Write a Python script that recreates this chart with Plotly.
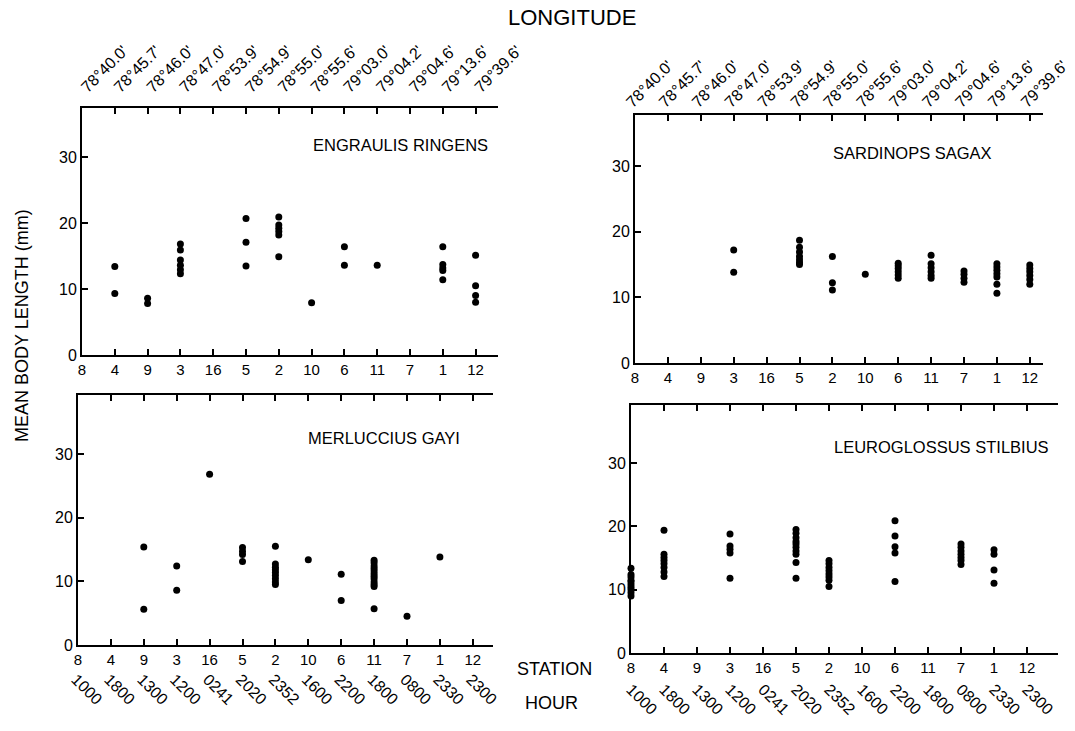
import plotly.graph_objects as go

# ---------------- data ----------------
STATIONS = [8, 4, 9, 3, 16, 5, 2, 10, 6, 11, 7, 1, 12]
LONGITUDES = ["78°40.0'", "78°45.7'", "78°46.0'", "78°47.0'", "78°53.9'", "78°54.9'",
              "78°55.0'", "78°55.6'", "79°03.0'", "79°04.2'", "79°04.6'", "79°13.6'", "79°39.6'"]
HOURS = ["1000", "1800", "1300", "1200", "0241", "2020", "2352",
         "1600", "2200", "1800", "0800", "2330", "2300"]

ENGRAULIS = {4: [13.4, 9.3], 9: [8.6, 7.8], 3: [16.8, 15.9, 14.4, 13.6, 12.9, 12.3],
             5: [20.7, 17.1, 13.5], 2: [20.9, 19.7, 19.2, 18.7, 18.2, 14.9], 10: [7.9],
             6: [16.4, 13.6], 11: [13.6], 1: [16.4, 13.7, 13.2, 12.8, 11.4],
             12: [15.1, 10.5, 9.0, 8.0]}
SARDINOPS = {3: [17.2, 13.8], 5: [18.7, 17.6, 16.9, 16.2, 15.7, 15.3, 15.0],
             2: [16.2, 12.2, 11.1], 10: [13.5], 6: [15.2, 14.8, 14.4, 13.9, 13.4, 12.9],
             11: [16.4, 15.1, 14.5, 13.9, 13.3, 12.9], 7: [14.0, 13.5, 12.9, 12.3],
             1: [15.1, 14.6, 14.1, 13.6, 13.1, 12.0, 10.6],
             12: [14.9, 14.4, 13.9, 13.3, 12.7, 12.0]}
MERLUCCIUS = {9: [15.4, 5.6], 3: [12.4, 8.6], 16: [26.8], 5: [15.3, 14.7, 14.2, 13.1],
              2: [15.5, 12.7, 12.2, 11.8, 11.4, 10.9, 10.4, 9.9, 9.5], 10: [13.4],
              6: [11.1, 7.0],
              11: [13.3, 12.9, 12.4, 12.0, 11.6, 11.2, 10.8, 10.4, 9.9, 9.5, 9.2, 5.7],
              7: [4.5], 1: [13.8]}
LEUROGLOSSUS = {8: [13.4, 12.4, 12.0, 11.5, 11.2, 10.8, 10.4, 10.0, 9.5, 9.0],
                4: [19.4, 15.6, 15.1, 14.6, 14.1, 13.5, 12.8, 12.1],
                3: [18.8, 16.9, 16.4, 15.8, 11.8],
                5: [19.5, 18.9, 18.2, 17.6, 17.2, 16.7, 16.1, 15.6, 14.3, 11.8],
                2: [14.6, 14.1, 13.5, 13.0, 12.5, 12.0, 11.5, 10.5],
                6: [20.9, 18.5, 16.8, 15.8, 11.3],
                7: [17.2, 16.7, 16.1, 15.6, 15.1, 14.6, 14.0],
                1: [16.3, 15.6, 13.1, 11.0]}

TITLES = ["ENGRAULIS RINGENS", "SARDINOPS SAGAX", "MERLUCCIUS GAYI", "LEUROGLOSSUS STILBIUS"]

# ---------------- layout helpers ----------------
W, H = 1075, 731
FONT = "Liberation Sans"
BLACK = "black"

# pixel geometry of each panel: (x_left, x_right, y_top, y_zero, px per station, px per 10 mm)
GEOM = [
    (82, 498, 108, 355, 32.8, 66.0),
    (635, 1043, 115, 363, 32.9, 65.7),
    (78, 493, 395, 645, 32.9, 63.7),
    (631, 1058, 405, 653, 33.0, 63.3),
]

fig = go.Figure()
species = [ENGRAULIS, SARDINOPS, MERLUCCIUS, LEUROGLOSSUS]

for i, data in enumerate(species):
    xs, ys = [], []
    for st, vals in data.items():
        p = STATIONS.index(st)
        xs += [p] * len(vals)
        ys += vals
    n = "" if i == 0 else str(i + 1)
    fig.add_trace(go.Scatter(x=xs, y=ys, mode="markers",
                             marker=dict(color=BLACK, size=7),
                             xaxis="x" + n, yaxis="y" + n, cliponaxis=False,
                             showlegend=False, hoverinfo="skip"))

layout = dict(width=W, height=H, margin=dict(l=0, r=0, t=0, b=0, autoexpand=False),
              paper_bgcolor="white", plot_bgcolor="rgba(0,0,0,0)", showlegend=False,
              font=dict(family=FONT, color=BLACK))

annotations = []
for i, (x0, x1, yt, y0, sx, sy) in enumerate(GEOM):
    n = "" if i == 0 else str(i + 1)
    xr = (x1 - x0) / sx
    yr = (y0 - yt) / (sy / 10.0)
    layout["xaxis" + n] = dict(
        domain=[x0 / W, x1 / W], anchor="y" + n, range=[0, xr], automargin=False,
        tickmode="array", tickvals=list(range(len(STATIONS))),
        ticktext=[str(s) for s in STATIONS],
        showline=True, linecolor=BLACK, linewidth=2, mirror="ticks",
        ticks="inside", ticklen=6, tickwidth=1.5, tickcolor=BLACK,
        showgrid=False, zeroline=False, tickangle=0,
        tickfont=dict(family=FONT, size=15, color=BLACK))
    layout["yaxis" + n] = dict(
        domain=[1 - y0 / H, 1 - yt / H], anchor="x" + n, range=[0, yr], automargin=False,
        tickmode="array", tickvals=[0, 10, 20, 30],
        showline=True, linecolor=BLACK, linewidth=2,
        ticks="inside", ticklen=6, tickwidth=1.5, tickcolor=BLACK,
        showgrid=False, zeroline=False,
        tickfont=dict(family=FONT, size=16, color=BLACK))

# top longitude axes (top panels) and hour axes (bottom panels)
# (axis id, base id, side, labels, angle, label-row y in px, horizontal shift in px)
extra = [("5", "", "top", LONGITUDES, -45, 99, 0),
         ("6", "2", "top", LONGITUDES, -45, 114, -8),
         ("7", "3", "bottom", HOURS, 45, 666, -2),
         ("8", "4", "bottom", HOURS, 45, 676, 0)]
for k, base, side, labels, ang, ypx, shift in extra:
    bi = 0 if base == "" else int(base) - 1
    x0, x1, yt, y0, sx, sy = GEOM[bi]
    ax = dict(domain=[(x0 + shift) / W, (x1 + shift) / W], side=side,
              range=[0, (x1 - x0) / sx],
              tickmode="array", tickvals=list(range(len(labels))), ticktext=labels,
              tickangle=ang, showline=False, ticks="", showgrid=False, zeroline=False,
              automargin=False, anchor="free", position=1 - ypx / H,
              tickfont=dict(family=FONT, size=16, color=BLACK))
    layout["xaxis" + k] = ax
    fig.add_trace(go.Scatter(x=list(range(len(labels))), y=[0] * len(labels),
                             mode="markers", marker=dict(opacity=0, size=1),
                             xaxis="x" + k, yaxis="y" + base, showlegend=False,
                             hoverinfo="skip"))

# panel titles
TITLE_POS = [(400, 145), (912, 153), (384, 438), (941, 447)]
for t, (px, py) in zip(TITLES, TITLE_POS):
    annotations.append(dict(text=t, x=px / W, y=1 - py / H, xref="paper", yref="paper",
                            showarrow=False, xanchor="center", yanchor="middle",
                            font=dict(family=FONT, size=16.5, color=BLACK)))

annotations += [
    dict(text="LONGITUDE", x=572 / W, y=1 - 18 / H, xref="paper", yref="paper",
         showarrow=False, xanchor="center", yanchor="middle",
         font=dict(family=FONT, size=22, color=BLACK)),
    dict(text="MEAN BODY LENGTH (mm)", x=22 / W, y=1 - 326 / H, xref="paper", yref="paper",
         showarrow=False, xanchor="center", yanchor="middle", textangle=-90,
         font=dict(family=FONT, size=18, color=BLACK)),
    dict(text="STATION", x=554 / W, y=1 - 669 / H, xref="paper", yref="paper",
         showarrow=False, xanchor="center", yanchor="middle",
         font=dict(family=FONT, size=18, color=BLACK)),
    dict(text="HOUR", x=551 / W, y=1 - 703 / H, xref="paper", yref="paper",
         showarrow=False, xanchor="center", yanchor="middle",
         font=dict(family=FONT, size=18, color=BLACK)),
]
layout["annotations"] = annotations
fig.update_layout(**layout)
fig.write_html("out.html", config={"displayModeBar": False},
               post_script="document.body.style.margin='0';document.body.style.overflow='hidden';")
